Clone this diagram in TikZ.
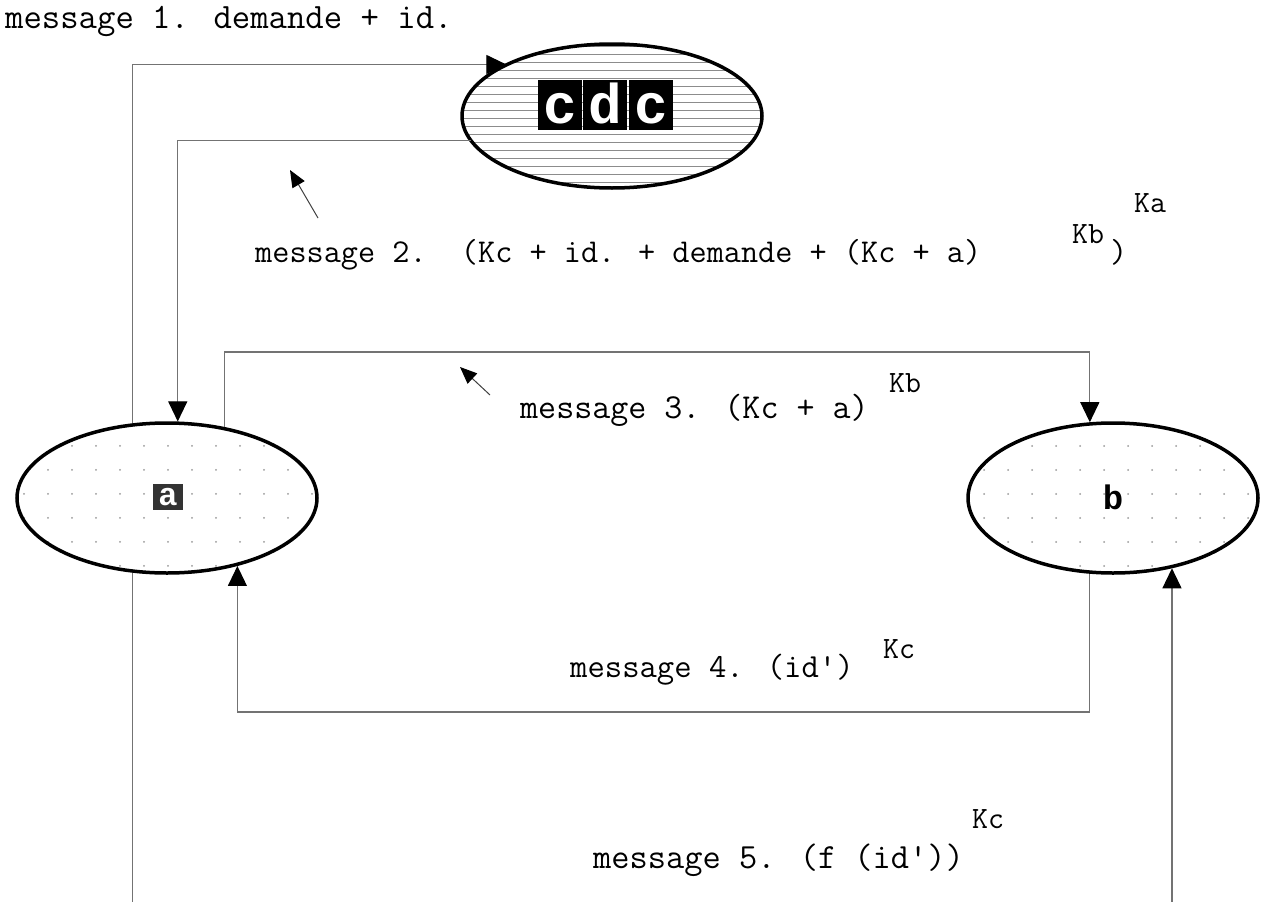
\documentclass[tikz,border=0pt]{standalone}
\usepackage{fontspec}
\newfontfamily\monof{Liberation Mono}
\usetikzlibrary{shapes.geometric,arrows.meta,patterns.meta}
\begin{document}
\begin{tikzpicture}[x=1pt,y=-1pt,
  conn/.style={draw=black!55, line width=1.1pt},
  tipped/.style={-{Triangle[length=20pt,width=19pt,color=black]}},
  pointer/.style={draw=black!75, line width=1pt, -{Triangle[length=17pt,width=14pt,color=black]}},
  blob/.style={ellipse, draw=black, line width=3.5pt, inner sep=0pt},
  hatch/.style={pattern={Lines[angle=0,distance=8pt,line width=0.8pt]}, pattern color=black!45},
  dotty/.style={pattern={Dots[distance=24pt,radius=1pt]}, pattern color=black!40},
  lbl/.style={anchor=base west, inner sep=0pt},
  cdcletter/.style={fill=black, text=white, inner sep=0pt, minimum width=44pt, minimum height=50pt,
    text height=40pt, text depth=3pt, font=\monof\bfseries\fontsize{56}{56}\selectfont},
]
\clip (0,0) rectangle (1275,902);
\fill[white] (0,0) rectangle (1275,902);

% nodes
\node[blob, hatch, minimum width=300pt, minimum height=144pt] (cdc) at (612,116) {};
\node[blob, dotty, minimum width=300pt, minimum height=150pt] (a) at (167,498) {};
\node[blob, dotty, minimum width=290pt, minimum height=150pt] (b) at (1113,498) {};

\node[cdcletter] (c1) at (560,105) {c};
\node[cdcletter] (c2) at (605,105) {d};
\node[cdcletter] (c3) at (651,105) {c};

\node[fill=black!80, text=white, inner sep=0pt, minimum width=30pt, minimum height=26pt,
  text height=17pt, text depth=0pt, font=\monof\bfseries\fontsize{32}{32}\selectfont] (alab) at (168,497) {a};
\node[inner sep=0pt, font=\monof\bfseries\fontsize{34}{34}\selectfont] (blab) at (1113,497) {b};

% turning points
\coordinate (m3) at (650,352);
\coordinate (m4) at (650,712);
\coordinate (m5) at (650,925);

% connectors
\draw[conn, tipped] (a.115) |- (cdc.154);
\draw[conn, tipped] (cdc.190) -| (a.82);
\draw[conn, tipped] (a.51) |- (m3) -| (b.107);
\draw[conn, tipped] (b.-107) |- (m4) -| (a.-44);
\draw[conn, tipped] (a.-115) |- (m5) -| (b.-50);

% pointer arrows
\coordinate (p2s) at (318,218);
\coordinate (p2e) at (290,170);
\coordinate (p3s) at (490,395);
\coordinate (p3e) at (460,367);
\draw[pointer] (p2s) -- (p2e);
\draw[pointer] (p3s) -- (p3e);

% labels
\node[lbl, font=\ttfamily\fontsize{35.7}{40}\selectfont] (t1) at (5,28) {message 1. demande + id.};

\node[lbl, font=\ttfamily\fontsize{33.3}{40}\selectfont] (t2) at (255,262) {message 2.\ \ (Kc + id. + demande + (Kc + a)};
\node[lbl, font=\ttfamily\fontsize{31}{36}\selectfont] (t2kb) at (1072,243) {Kb};
\node[lbl, font=\ttfamily\fontsize{31}{36}\selectfont] (t2ka) at (1134,212) {Ka};
\node[lbl, font=\ttfamily\fontsize{33.3}{40}\selectfont] (t2p) at (1110,262) {)};

\node[lbl, font=\ttfamily\fontsize{35}{40}\selectfont] (t3) at (520,418) {message 3. (Kc + a)};
\node[lbl, font=\ttfamily\fontsize{31}{36}\selectfont] (t3kb) at (889,392) {Kb};

\node[lbl, font=\ttfamily\fontsize{33.7}{40}\selectfont] (t4) at (570,677) {message 4. (id\textquotesingle)};
\node[lbl, font=\ttfamily\fontsize{31}{36}\selectfont] (t4kc) at (883,658) {Kc};

\node[lbl, font=\ttfamily\fontsize{35.4}{40}\selectfont] (t5) at (593,868) {message 5. (f (id\textquotesingle))};
\node[lbl, font=\ttfamily\fontsize{31}{36}\selectfont] (t5kc) at (972,828) {Kc};
\end{tikzpicture}
\end{document}
